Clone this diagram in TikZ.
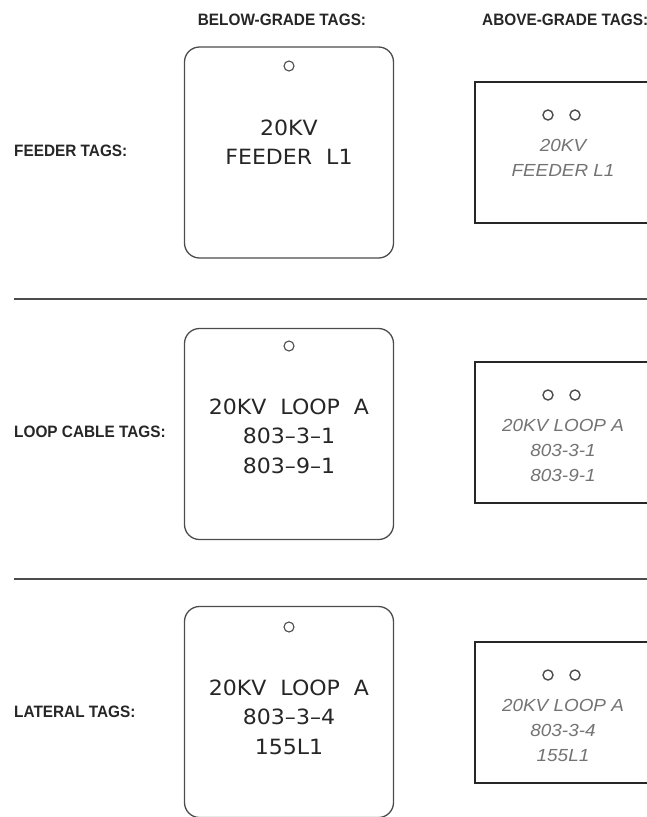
\documentclass[tikz,border=0pt]{standalone}
\usepackage{fontspec}
\setmainfont{Liberation Sans}
\newfontfamily\headfont{Liberation Sans}[FakeStretch=0.93]
\newfontfamily\tagfont{DejaVu Sans}[FakeStretch=1.05]
\newfontfamily\handfont{Liberation Sans}[FakeStretch=1.08]
\definecolor{inkdark}{gray}{0.15}
\definecolor{inkline}{gray}{0.3}
\definecolor{inkhand}{gray}{0.45}
\begin{document}
\begin{tikzpicture}[x=1pt,y=-1pt,
  headlbl/.style={font=\headfont\bfseries\fontsize{16.5}{18}\selectfont, text=inkdark, inner sep=0pt},
  tagbox/.style={draw=inkline, line width=1.3pt, rounded corners=15pt, minimum width=209pt, minimum height=211pt, inner sep=0pt},
  tagtext/.style={font=\tagfont\fontsize{21}{29.5}\selectfont, text=inkdark, align=center, inner sep=0pt},
  abovebox/.style={draw=inkdark, line width=1.8pt, inner sep=0pt},
  handtext/.style={font=\handfont\itshape\fontsize{17.5}{25}\selectfont, text=inkhand, align=center, inner sep=0pt},
  hole/.style={circle, draw=inkline, line width=1.1pt, minimum size=10pt, inner sep=0pt},
  sepline/.style={draw=inkline, line width=1.3pt}]
\useasboundingbox (0,0) rectangle (647,817);
\clip (0,0) rectangle (647,817);

% headers
\node[headlbl] (hbelow) at (282,20) {BELOW-GRADE TAGS:};
\node[headlbl, anchor=west] (habove) at (482,20) {ABOVE-GRADE TAGS:};

% row labels
\node[headlbl, anchor=west] (lfeed) at (14,151) {FEEDER TAGS:};
\node[headlbl, anchor=west] (lloop) at (14,432) {LOOP CABLE TAGS:};
\node[headlbl, anchor=west] (llat) at (14,712) {LATERAL TAGS:};

% separators
\coordinate (s1a) at (14,299);
\coordinate (s1b) at (660,299);
\coordinate (s2a) at (14,579);
\coordinate (s2b) at (660,579);
\draw[sepline] (s1a) -- (s1b);
\draw[sepline] (s2a) -- (s2b);

% below-grade tags
\node[tagbox] (t1) at (289,152.5) {};
\node[hole] (h1) at (289,66) {};
\node[tagtext] (x1) at (289,142) {20KV\\FEEDER\ \ L1};

\node[tagbox] (t2) at (289,434) {};
\node[hole] (h2) at (289,346) {};
\node[tagtext] (x2) at (289,436) {20KV\ \ LOOP\ \ A\\803–3–1\\803–9–1};

\node[tagbox] (t3) at (289,712) {};
\node[hole] (h3) at (289,627) {};
\node[tagtext] (x3) at (289,717) {20KV\ \ LOOP\ \ A\\803–3–4\\155L1};

% above-grade tags
\draw[abovebox] (475,82) rectangle (665,223);
\node[hole, line width=1.4pt] (a1l) at (548,115) {};
\node[hole, line width=1.4pt] (a1r) at (575,115) {};
\node[handtext] (y1) at (563,157.5) {20KV\\FEEDER L1};

\draw[abovebox] (475,362) rectangle (665,503);
\node[hole, line width=1.4pt] (a2l) at (548,395) {};
\node[hole, line width=1.4pt] (a2r) at (575,395) {};
\node[handtext] (y2) at (563,450) {20KV LOOP A\\803-3-1\\803-9-1};

\draw[abovebox] (475,642) rectangle (665,783);
\node[hole, line width=1.4pt] (a3l) at (548,675) {};
\node[hole, line width=1.4pt] (a3r) at (575,675) {};
\node[handtext] (y3) at (563,730) {20KV LOOP A\\803-3-4\\155L1};
\end{tikzpicture}
\end{document}
